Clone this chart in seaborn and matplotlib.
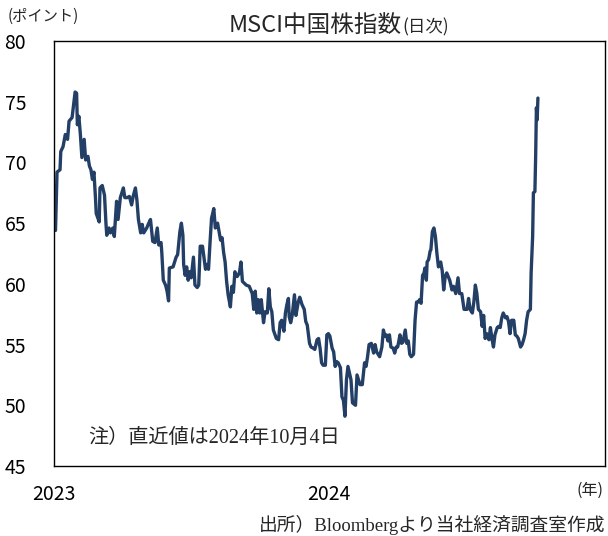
import pandas as pd
import matplotlib.pyplot as plt
import seaborn as sns

# MSCI China index, daily
# days = days since 2023-01-01
days = [2, 4, 8, 9, 12, 15, 18, 20, 24, 28, 30, 31, 33, 35, 37, 40, 42, 45, 47, 49,
        51, 53, 55, 56, 60, 61, 64, 67, 69, 70, 73, 75, 78, 80, 83, 85, 88, 92, 94, 97,
        100, 103, 105, 108, 110, 112, 115, 117, 119, 123, 125, 128, 131, 134, 137, 139, 142, 143, 145, 148,
        150, 152, 153, 158, 162, 164, 167, 169, 171, 172, 174, 176, 178, 180, 182, 185, 187, 190, 192, 194,
        197, 201, 203, 205, 207, 209, 212, 214, 217, 219, 221, 223, 225, 227, 229, 231, 234, 236, 238, 240,
        243, 246, 248, 250, 255, 259, 263, 265, 267, 269, 271, 273, 275, 278, 280, 283, 285, 287, 289, 291,
        295, 298, 300, 302, 305, 307, 309, 311, 312, 314, 316, 319, 321, 324, 326, 329, 332, 334, 336, 339,
        341, 344, 346, 349, 351, 353, 355, 357, 360, 362, 364, 366, 369, 371, 373, 375, 377, 380, 382, 384,
        386, 388, 390, 394, 396, 400, 402, 406, 409, 412, 414, 416, 418, 421, 424, 426, 428, 430, 432, 435,
        437, 439, 441, 443, 445, 447, 450, 452, 454, 456, 459, 461, 463, 466, 468, 470, 472, 474, 477, 479,
        481, 483, 485, 487, 489, 491, 492, 494, 495, 497, 499, 500, 502, 504, 506, 508, 510, 513, 515, 517,
        519, 521, 525, 528, 530, 533, 536, 538, 541, 544, 548, 550, 552, 555, 557, 559, 561, 563, 566, 568,
        570, 572, 574, 577, 579, 581, 583, 585, 588, 590, 592, 594, 596, 599, 601, 603, 605, 607, 610, 612,
        614, 616, 619, 621, 623, 625, 627, 629, 632, 633, 635, 636, 638, 639, 640, 641, 642]
index_values = [64.4, 69.2, 69.4, 70.9, 71.3, 72.3, 71.9, 73.4, 73.7, 75.8, 75.7, 73.1, 73.8, 72.3, 70.4, 71.9, 70.2, 70.5, 69.7, 69.4,
                68.6, 69.2, 67.1, 65.8, 65.1, 67.9, 68.1, 67.3, 64.9, 64.0, 64.6, 64.2, 64.6, 63.9, 66.8, 65.3, 67.1, 67.9, 67.1, 67.1,
                67.2, 66.5, 67.2, 67.9, 66.9, 65.3, 64.2, 64.9, 64.2, 64.6, 64.9, 65.3, 63.5, 63.4, 64.6, 63.2, 63.4, 62.6, 60.3, 59.9,
                59.4, 58.6, 61.3, 61.4, 62.2, 62.4, 64.3, 65.0, 64.0, 61.6, 60.7, 61.4, 60.3, 61.0, 60.5, 62.2, 59.9, 59.7, 59.9, 63.1,
                63.1, 61.2, 61.6, 61.2, 63.4, 65.4, 66.2, 64.6, 65.0, 64.3, 63.6, 63.8, 62.6, 61.8, 60.2, 59.1, 58.1, 59.8, 59.3, 61.0,
                60.6, 60.9, 61.8, 60.2, 59.9, 59.8, 59.2, 57.9, 59.4, 57.6, 58.7, 57.6, 58.7, 56.8, 57.7, 57.6, 59.6, 58.1, 57.7, 56.2,
                55.5, 55.4, 56.8, 57.0, 56.1, 57.6, 58.3, 58.8, 57.3, 56.8, 57.4, 59.1, 57.4, 58.5, 58.9, 58.3, 57.9, 56.9, 56.6, 55.1,
                54.8, 54.7, 54.6, 55.4, 55.5, 54.7, 53.5, 53.3, 53.3, 55.8, 55.9, 55.7, 54.7, 54.4, 53.2, 53.6, 53.5, 53.1, 50.7, 50.4,
                49.1, 52.1, 53.2, 52.1, 50.2, 50.0, 52.5, 51.7, 51.7, 53.5, 53.2, 54.0, 55.0, 55.1, 54.3, 55.0, 54.4, 54.2, 54.0, 54.8,
                56.2, 55.7, 55.8, 55.3, 55.8, 54.8, 54.7, 54.3, 54.8, 54.8, 55.8, 55.1, 55.2, 56.2, 55.1, 55.3, 54.2, 54.0, 54.2, 57.0,
                58.5, 58.5, 58.7, 58.4, 60.7, 60.9, 61.3, 60.3, 61.8, 62.0, 62.7, 62.8, 64.3, 64.6, 63.9, 62.5, 61.4, 61.8, 61.1, 59.5,
                60.6, 60.9, 60.3, 59.5, 59.8, 59.2, 60.5, 59.2, 59.2, 57.9, 57.9, 58.8, 57.9, 57.6, 58.5, 59.9, 59.2, 57.9, 57.7, 56.5,
                57.4, 55.5, 55.9, 55.4, 56.4, 55.5, 54.8, 55.8, 56.4, 56.5, 56.4, 57.2, 57.6, 57.2, 57.3, 56.9, 55.9, 57.0, 57.0, 55.8,
                55.7, 55.5, 54.8, 55.0, 55.4, 55.9, 57.0, 57.7, 57.9, 60.9, 63.9, 67.5, 67.6, 70.5, 74.5, 73.5, 75.3]

year_ticks = ["2023-01-01", "2024-01-01"]
year_labels = ["2023", "2024"]
y_ticks = [45, 50, 55, 60, 65, 70, 75, 80]

df = pd.DataFrame({
    "date": pd.Timestamp("2023-01-01") + pd.to_timedelta(days, unit="D"),
    "value": index_values,
})

sns.set_style("white")
plt.rcParams["font.family"] = ["Noto Sans CJK JP", "DejaVu Sans"]
serif_jp = ["Liberation Serif", "Noto Sans CJK JP"]

fig = plt.figure(figsize=(6.08, 5.36), dpi=100)
ax = fig.add_axes([54 / 608, 1 - 466 / 536, 551 / 608, 425 / 536])

sns.lineplot(data=df, x="date", y="value", ax=ax, color="#233f66", linewidth=2.4)

ax.set_xlim(pd.Timestamp("2023-01-01"), pd.Timestamp("2025-01-01"))
ax.set_ylim(45, 80)
ax.set_xticks(pd.to_datetime(year_ticks))
ax.set_xticklabels(year_labels)
ax.set_yticks(y_ticks)
ax.set_xlabel("")
ax.set_ylabel("")
ax.tick_params(axis="y", direction="in", length=5, width=1, pad=20, labelsize=14, colors="black")
ax.tick_params(axis="x", length=0, pad=13, labelsize=14, colors="black")
for s in ax.spines.values():
    s.set_color("black")
    s.set_linewidth(1)

# title in two sizes
ax.text(0.632, 1.037, "MSCI中国株指数", transform=ax.transAxes, ha="right", va="center", fontsize=17)
ax.text(0.632, 1.032, "(日次)", transform=ax.transAxes, ha="left", va="center", fontsize=12.5)

fig.text(8 / 608, 1 - 16 / 536, "(ポイント)", ha="left", va="center", fontsize=11)
fig.text(604 / 608, 1 - 490 / 536, "(年)", ha="right", va="center", fontsize=11.5)
ax.text(0.062, 0.065, "注）直近値は2024年10月4日", transform=ax.transAxes, ha="left", va="center",
        fontsize=14.5, family=serif_jp)
fig.text(605 / 608, 1 - 525 / 536, "出所）Bloombergより当社経済調査室作成", ha="right", va="center",
         fontsize=13.5, family=serif_jp)

fig.savefig("out.png", dpi=100)
